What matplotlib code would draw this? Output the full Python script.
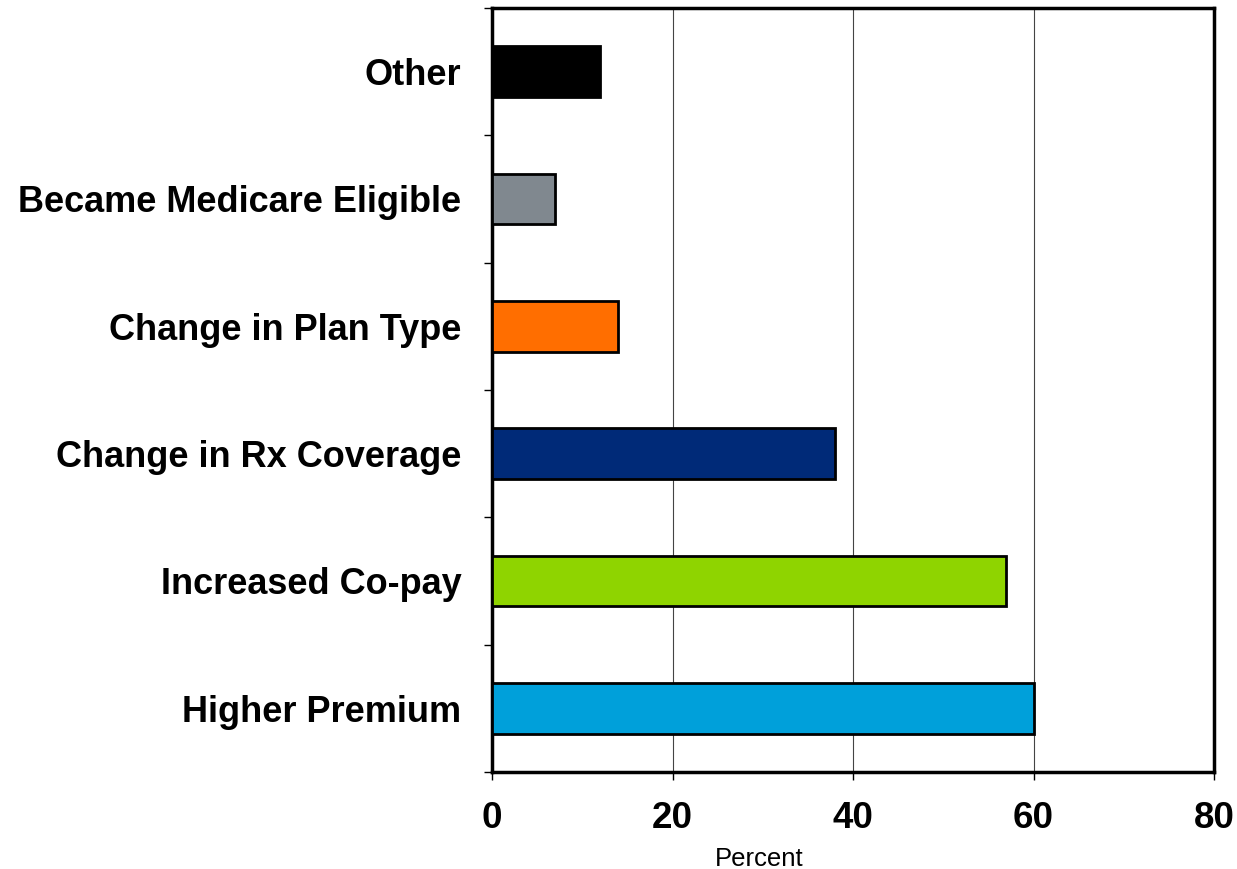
import matplotlib.pyplot as plt
import numpy as np
from matplotlib.ticker import FixedLocator

categories = ["Higher Premium", "Increased Co-pay", "Change in Rx Coverage",
              "Change in Plan Type", "Became Medicare Eligible", "Other"]
values = [60, 57, 38, 14, 7, 12]
colors = ["#00A0DA", "#8FD400", "#002A78", "#FF6E00", "#80888F", "#000000"]
xticks = [0, 20, 40, 60, 80]

plt.rcParams["font.family"] = ["Liberation Sans", "DejaVu Sans"]

fig = plt.figure(figsize=(12.37, 8.69), dpi=100)
ax = fig.add_axes([492 / 1237, 1 - 772 / 869, (1214 - 492) / 1237, (772 - 8) / 869])

y = np.arange(len(categories))
ax.barh(y, values, height=0.4, color=colors, edgecolor="black", linewidth=2, zorder=3)

ax.set_xlim(0, 80)
ax.set_ylim(-0.5, len(categories) - 0.5)
ax.set_xticks(xticks)
ax.set_xticklabels([str(t) for t in xticks], fontsize=26.5, fontweight="bold")
ax.set_yticks(y)
ax.set_yticklabels(categories, fontsize=26, fontweight="bold")
ax.yaxis.set_minor_locator(FixedLocator(np.arange(len(categories) + 1) - 0.5))
ax.tick_params(axis="y", which="major", length=0, pad=22)
ax.tick_params(axis="y", which="minor", length=6, width=1, direction="out")
ax.tick_params(axis="x", which="major", length=6, width=1, direction="out", pad=15)

ax.grid(axis="x", color="#444444", linewidth=0.8, zorder=0)
for s in ax.spines.values():
    s.set_linewidth(2.5)

ax.set_xlabel("Percent", fontsize=18.5)
ax.xaxis.set_label_coords(0.37, -0.098)

fig.savefig("out.png", dpi=100)
